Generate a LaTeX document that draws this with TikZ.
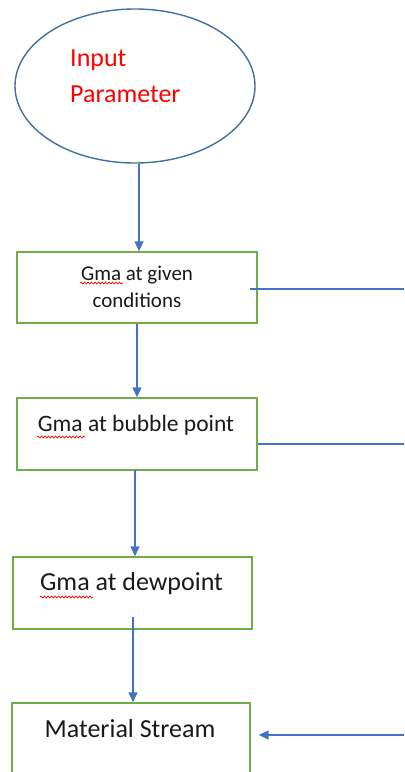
\documentclass[tikz,border=0pt]{standalone}
\usepackage{fontspec}
\setmainfont{Carlito}
\usetikzlibrary{arrows.meta,calc,decorations.pathmorphing,shapes.geometric}
\definecolor{lineblue}{HTML}{4472C4}
\definecolor{ellblue}{HTML}{41719C}
\definecolor{boxgreen}{HTML}{70AD47}
\definecolor{txtred}{HTML}{FF0000}
\definecolor{txtdark}{HTML}{1A1A1A}
\begin{document}
\begin{tikzpicture}[x=1bp,y=-1bp,
  ellbox/.style={ellipse,draw=ellblue,line width=1.4bp,fill=white,minimum width=240bp,minimum height=154bp,inner sep=0pt},
  procbox/.style={rectangle,draw=boxgreen,line width=1.4bp,minimum width=240bp,inner sep=0pt},
  lbl/.style={inner sep=0pt,anchor=base,text=txtdark,align=center},
  conn/.style={draw=lineblue,line width=1.4bp},
  arr/.style={conn,-{Triangle[width=9bp,length=10bp]}},
  squig/.style={draw=red,line width=0.7bp,decorate,decoration={snake,amplitude=1bp,segment length=3.5bp}}]
\useasboundingbox (0,0) rectangle (404,772);
\clip (0,0) rectangle (404,772);
\fill[white] (0,0) rectangle (404,772);
% nodes
\node[ellbox] (ell) at (135,86) {};
\node[inner sep=0pt,anchor=base west,align=left,text=txtred,font=\fontsize{26bp}{35bp}\selectfont] (inp) at (70,102) {Input\\Parameter};
\node[procbox,minimum height=71bp] (b1) at (137,287.5) {};
\node[lbl,font=\fontsize{21bp}{27bp}\selectfont] (t1) at (137,307) {Gma at given\\conditions};
\node[procbox,minimum height=72bp] (b2) at (137,434) {};
\node[lbl,font=\fontsize{23.5bp}{28bp}\selectfont] (t2) at (136,431) {Gma at bubble point};
\node[procbox,minimum width=239bp,minimum height=72bp] (b3) at (132.5,593) {};
\node[lbl,font=\fontsize{26bp}{30bp}\selectfont] (t3) at (131.5,590) {Gma at dewpoint};
\node[procbox,minimum width=238bp,minimum height=90bp] (b4) at (131,748) {};
\node[lbl,font=\fontsize{26bp}{30bp}\selectfont] (t4) at (130,737) {Material Stream};
% spell-check marks
\draw[squig] (80,283) -- (123,283);
\draw[squig] (37,437) -- (85,437);
\draw[squig] (40,597) -- (93,597);
% free ends
\coordinate (e1) at (404,289);
\coordinate (e2) at (404,444);
\coordinate (e4) at (404,735);
\coordinate (s1) at (250,289);
\coordinate (s2) at (135,470);
\coordinate (s3) at (133,617);
% connectors
\draw[arr] (ell.-87) -- (ell.-87 |- b1.north);
\draw[arr] (b1.south) -- (b2.north);
\draw[arr] (s2) -- (s2 |- b3.north);
\draw[arr] (s3) -- (s3 |- b4.north);
\draw[conn] (s1) -- (e1);
\draw[conn] (b2.east |- e2) -- (e2);
\draw[arr,shorten >=8bp] (e4) -- (b4.east |- e4);
\end{tikzpicture}
\end{document}
